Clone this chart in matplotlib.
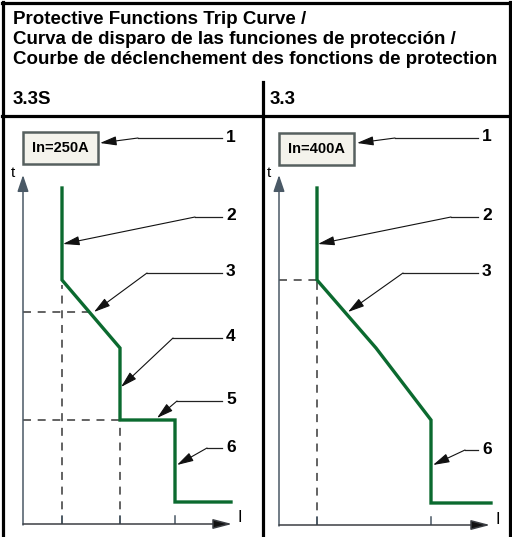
import matplotlib.pyplot as plt
from matplotlib.patches import Rectangle

W, H = 512, 537
GREEN = "#0b6a2f"
AXC = "#4a5966"

plt.rcParams['font.family'] = ['Liberation Sans', 'DejaVu Sans']

title_lines = ["Protective Functions Trip Curve /",
               "Curva de disparo de las funciones de protección /",
               "Courbe de déclenchement des fonctions de protection"]
panel_names = ["3.3S", "3.3"]
rating_labels = ["In=250A", "In=400A"]

# trip curves (schematic I / t units)
left_I = [1.95, 1.95, 4.85, 4.85, 7.6, 7.6, 10.4]
left_t = [16.8, 12.2, 8.8, 5.2, 5.2, 1.1, 1.1]
right_I = [1.9, 1.9, 4.85, 7.6, 7.6, 10.6]
right_t = [16.85, 12.25, 8.85, 5.25, 1.1, 1.1]

left_ticks = [1.95, 4.85, 7.6]
right_ticks = [1.9, 7.6]

# dashed guides: (I0, I1, t0, t1)
left_guides = [(1.95, 1.95, 0, 11.95), (0, 3.3, 10.6, 10.6),
               (0, 4.85, 5.2, 5.2), (4.85, 4.85, 0, 5.2)]
right_guides = [(0, 1.9, 12.25, 12.25), (1.9, 1.9, 0, 12.25)]

# callouts: label, text height, elbow x, tip
left_callouts = [("1", 19.3, 5.75, (3.85, 19.05)),
                 ("2", 15.35, 8.6, (2.0, 14.0)),
                 ("3", 12.55, 6.2, (3.55, 10.6)),
                 ("4", 9.3, 7.5, (4.9, 6.85)),
                 ("5", 6.15, 7.7, (6.7, 5.3)),
                 ("6", 3.8, 9.2, (7.7, 2.95))]
right_callouts = [("1", 19.35, 5.8, (3.9, 19.1)),
                  ("2", 15.4, 8.6, (1.95, 14.05)),
                  ("3", 12.6, 6.2, (3.45, 10.65)),
                  ("6", 3.75, 9.3, (7.7, 3.0))]

fig = plt.figure(figsize=(W / 100, H / 100), dpi=100)
bg = fig.add_axes([0, 0, 1, 1])
bg.set_xlim(0, W)
bg.set_ylim(H, 0)
bg.axis("off")

# frame
bg.plot([3, 3], [2, H], color="black", lw=2.3)
bg.plot([2, 511], [3, 3], color="black", lw=2.3)
bg.plot([510, 510], [2, H], color="black", lw=2.3)
bg.plot([2, 511], [116, 116], color="black", lw=2.3)
bg.plot([263, 263], [82, H], color="black", lw=2.3)

for i, line in enumerate(title_lines):
    bg.text(13, 20 + i * 19.5, line, fontsize=13.5, fontweight="bold", va="center", ha="left")
bg.text(13, 100, panel_names[0], fontsize=13.4, fontweight="bold", va="center")
bg.text(270, 100, panel_names[1], fontsize=13.4, fontweight="bold", va="center")


def panel(x0, y0, I, t, ticks, guides, callouts, rating, xend, yend):
    ax = fig.add_axes([x0 / W, 1 - y0 / H, 230 / W, 404 / H])
    ax.set_xlim(0, 11.5)
    ax.set_ylim(0, 20.2)
    ax.axis("off")
    for g in guides:
        ax.plot([g[0], g[1]], [g[2], g[3]], color="#404040", lw=1.15,
                dashes=(5, 4.2), zorder=1)
    # axes with arrows
    ax.annotate("", xy=(0, yend), xytext=(0, -0.05),
                arrowprops=dict(arrowstyle="-|>,head_length=1.0,head_width=0.34",
                                color=AXC, lw=1.1, shrinkA=0, shrinkB=0))
    ax.annotate("", xy=(xend, 0), xytext=(0, 0),
                arrowprops=dict(arrowstyle="-|>,head_length=1.15,head_width=0.3",
                                ec="#3c3f44", fc="#111111", lw=1.1, shrinkA=0, shrinkB=0))
    for tk in ticks:
        ax.plot([tk, tk], [0, 0.4], color=AXC, lw=1.1)
    ax.text(-0.5, yend + 0.1, "t", fontsize=11, ha="center", va="center")
    ax.text(xend + 0.4, 0.3, "I", fontsize=12, ha="center", va="center")
    ax.plot(I, t, color=GREEN, lw=2.4, solid_joinstyle="miter", zorder=3)
    ax.add_patch(Rectangle((0.0, 18.0), 3.75, 1.6, fc="#f4f3ec", ec="#56605f",
                           lw=1.8, clip_on=False, zorder=4))
    ax.text(1.875, 18.8, rating, fontsize=10.5, fontweight="bold",
            ha="center", va="center", zorder=5)
    for lab, ty, ex, tip in callouts:
        ax.plot([ex, 9.95], [ty, ty], color="#222222", lw=0.9, clip_on=False)
        ax.annotate("", xy=tip, xytext=(ex, ty),
                    arrowprops=dict(arrowstyle="-|>,head_length=1.0,head_width=0.28",
                                    color="#111111", lw=0.8, shrinkA=0, shrinkB=0))
        ax.text(10.15, ty + 0.05, lab, fontsize=12.5, fontweight="bold",
                ha="left", va="center")
    return ax


panel(23, 524, left_I, left_t, left_ticks, left_guides, left_callouts,
      rating_labels[0], 10.45, 17.45)
panel(279, 525, right_I, right_t, right_ticks, right_guides, right_callouts,
      rating_labels[1], 10.55, 17.5)

fig.savefig("out.png", dpi=100)
